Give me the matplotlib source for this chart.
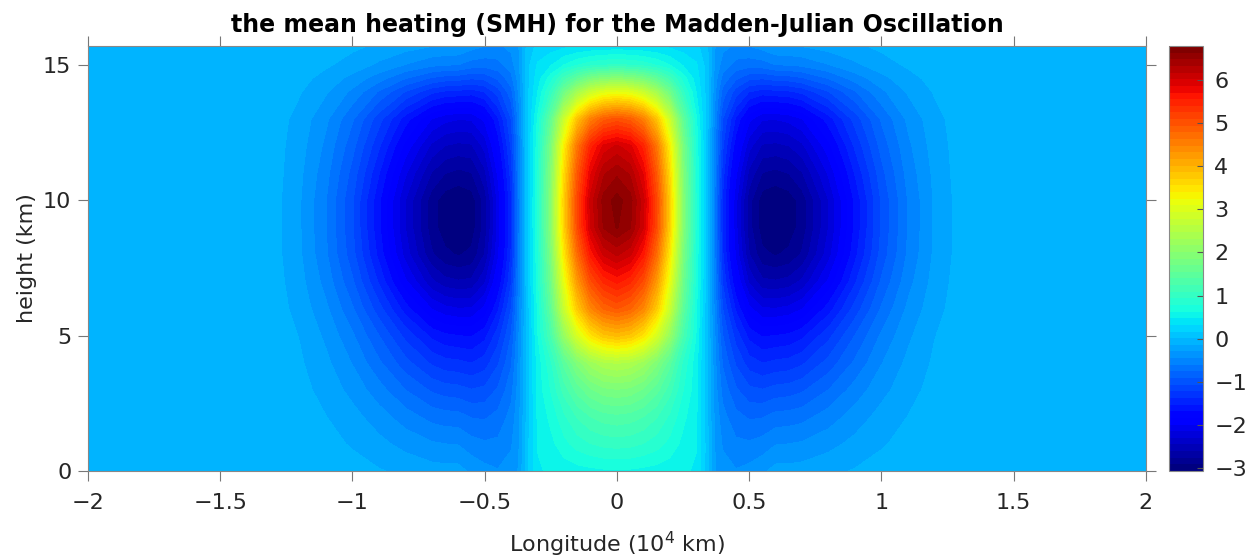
import numpy as np
import matplotlib
matplotlib.use('Agg')
from matplotlib import pyplot as plt

# height levels (km) and half of the longitude nodes (10^4 km), field is symmetric about 0
z_km = [0, 1, 2, 3, 4, 5, 6, 7, 8, 9, 10, 11, 12, 13, 14, 14.5, 15, 15.7]
x_core = [0, 0.05, 0.1, 0.15, 0.2, 0.25, 0.3, 0.34]
x_flank = [0.37, 0.4, 0.45, 0.5, 0.55, 0.6, 0.65, 0.7, 0.8, 0.9, 1.0, 1.1, 1.2, 1.3, 1.4, 2.0]

# heating in the convective core (rows = z_km, cols = x_core)
heat_core = [
    [0.60, 0.60, 0.58, 0.56, 0.53, 0.49, 0.46, 0.10],
    [1.00, 0.98, 0.93, 0.85, 0.73, 0.58, 0.48, 0.10],
    [1.35, 1.32, 1.24, 1.10, 0.90, 0.67, 0.50, 0.05],
    [1.85, 1.81, 1.68, 1.46, 1.15, 0.79, 0.53, 0.05],
    [2.50, 2.44, 2.25, 1.91, 1.45, 0.90, 0.53, 0.05],
    [3.90, 3.80, 3.48, 2.92, 2.15, 1.24, 0.61, 0.05],
    [4.95, 4.81, 4.45, 3.75, 2.75, 1.50, 0.65, 0.05],
    [5.60, 5.44, 5.05, 4.25, 3.10, 1.68, 0.70, 0.10],
    [6.20, 6.05, 5.60, 4.72, 3.42, 1.83, 0.73, 0.10],
    [6.65, 6.50, 6.02, 5.07, 3.66, 1.95, 0.76, 0.10],
    [6.70, 6.55, 6.07, 5.11, 3.70, 1.96, 0.76, 0.10],
    [6.45, 6.30, 5.84, 4.92, 3.56, 1.90, 0.75, 0.10],
    [6.05, 5.91, 5.48, 4.62, 3.35, 1.80, 0.72, 0.10],
    [5.00, 4.88, 4.52, 3.82, 2.78, 1.52, 0.65, 0.10],
    [3.10, 3.02, 2.76, 2.32, 1.70, 0.97, 0.47, 0.10],
    [2.00, 1.95, 1.80, 1.52, 1.15, 0.71, 0.40, 0.10],
    [0.95, 0.93, 0.87, 0.77, 0.63, 0.46, 0.34, 0.10],
    [0.35, 0.35, 0.33, 0.31, 0.28, 0.24, 0.21, 0.05],
]

# cooling on the flanks (rows = z_km, cols = x_flank)
heat_flank = [
    [-0.28, -0.39, -0.44, -0.40, -0.33, -0.24, -0.24, -0.23, -0.18, -0.13, -0.08, -0.05, -0.02, -0.01, 0, 0],
    [-0.30, -0.47, -0.57, -0.58, -0.54, -0.46, -0.45, -0.43, -0.35, -0.25, -0.16, -0.09, -0.04, -0.01, 0, 0],
    [-0.33, -0.55, -0.71, -0.78, -0.77, -0.70, -0.69, -0.66, -0.53, -0.38, -0.24, -0.14, -0.06, -0.02, 0, 0],
    [-0.37, -0.66, -0.89, -1.03, -1.06, -1.01, -0.99, -0.94, -0.76, -0.54, -0.35, -0.20, -0.09, -0.03, 0, 0],
    [-0.40, -0.78, -1.09, -1.30, -1.38, -1.34, -1.32, -1.25, -1.01, -0.73, -0.46, -0.26, -0.12, -0.04, 0, 0],
    [-0.44, -0.91, -1.29, -1.58, -1.70, -1.68, -1.65, -1.57, -1.27, -0.91, -0.58, -0.33, -0.15, -0.04, 0, 0],
    [-0.50, -1.07, -1.56, -1.95, -2.13, -2.14, -2.10, -2.00, -1.61, -1.16, -0.74, -0.42, -0.20, -0.06, 0, 0],
    [-0.55, -1.24, -1.83, -2.33, -2.57, -2.59, -2.55, -2.42, -1.96, -1.40, -0.89, -0.51, -0.24, -0.07, 0, 0],
    [-0.59, -1.36, -2.03, -2.60, -2.88, -2.93, -2.88, -2.74, -2.21, -1.58, -1.01, -0.58, -0.27, -0.08, 0, 0],
    [-0.60, -1.40, -2.10, -2.70, -3.00, -3.05, -3.00, -2.85, -2.30, -1.65, -1.05, -0.60, -0.28, -0.08, 0, 0],
    [-0.60, -1.40, -2.10, -2.70, -3.00, -3.05, -3.00, -2.85, -2.30, -1.65, -1.05, -0.60, -0.28, -0.08, 0, 0],
    [-0.57, -1.31, -1.96, -2.50, -2.77, -2.81, -2.76, -2.62, -2.12, -1.52, -0.97, -0.55, -0.26, -0.07, 0, 0],
    [-0.54, -1.20, -1.78, -2.25, -2.48, -2.50, -2.46, -2.34, -1.89, -1.35, -0.86, -0.49, -0.23, -0.07, 0, 0],
    [-0.50, -1.07, -1.56, -1.95, -2.13, -2.14, -2.10, -2.00, -1.61, -1.16, -0.74, -0.42, -0.20, -0.06, 0, 0],
    [-0.41, -0.82, -1.15, -1.38, -1.46, -1.43, -1.41, -1.34, -1.08, -0.78, -0.49, -0.28, -0.13, -0.04, 0, 0],
    [-0.37, -0.66, -0.89, -1.03, -1.06, -1.01, -0.99, -0.94, -0.76, -0.54, -0.35, -0.20, -0.09, -0.03, 0, 0],
    [-0.32, -0.52, -0.66, -0.70, -0.68, -0.61, -0.60, -0.57, -0.46, -0.33, -0.21, -0.12, -0.06, -0.02, 0, 0],
    [-0.29, -0.41, -0.48, -0.45, -0.39, -0.31, -0.30, -0.29, -0.23, -0.17, -0.11, -0.06, -0.03, -0.01, 0, 0],
]

cb_ticks = [-3, -2, -1, 0, 1, 2, 3, 4, 5, 6]
vmin, vmax = -3.07, 6.79

# mirror the half field onto negative longitudes
x_half = np.array(x_core + x_flank)
half = np.hstack([np.array(heat_core), np.array(heat_flank)])
x_all = np.concatenate([-x_half[:0:-1], x_half])
field = np.hstack([half[:, :0:-1], half])
X, Z = np.meshgrid(x_all, z_km)

fig = plt.figure(figsize=(12.51, 5.58), dpi=100)
ax = fig.add_axes([0.0703, 0.1559, 0.8457, 0.7616])
levels = np.linspace(vmin, vmax, 65)
cs = ax.contourf(X, Z, field, levels=levels, cmap=plt.get_cmap('jet', 64),
                 vmin=vmin, vmax=vmax, antialiased=False)

ax.set_xlim(-2, 2)
ax.set_ylim(0, 15.7)
ax.set_xticks([-2, -1.5, -1, -0.5, 0, 0.5, 1, 1.5, 2])
ax.set_xticklabels(['−2', '−1.5', '−1', '−0.5', '0', '0.5', '1', '1.5', '2'])
ax.set_yticks([0, 5, 10, 15])
ax.tick_params(direction='out', length=7, width=0.8, color='#777777', labelcolor='#262626',
               labelsize=16, top=True, right=True, pad=5)
ax.tick_params(axis='x', pad=9)
for s in ax.spines.values():
    s.set_color('#888888')
    s.set_linewidth(0.8)

ax.set_xlabel('Longitude (10$^4$ km)', fontsize=16, color='#262626', labelpad=12)
ax.set_ylabel('height (km)', fontsize=16, color='#262626', labelpad=4)
ax.set_title('the mean heating (SMH) for the Madden-Julian Oscillation', fontsize=17,
             fontweight='bold', pad=10)

cax = fig.add_axes([0.9345, 0.1559, 0.0272, 0.7616])
cb = fig.colorbar(cs, cax=cax, ticks=cb_ticks)
cb.ax.set_yticklabels(['−3', '−2', '−1', '0', '1', '2', '3', '4', '5', '6'])
cb.ax.tick_params(direction='in', length=4, color='#555555', labelcolor='#262626',
                  labelsize=16, pad=8)
cb.outline.set_edgecolor('#888888')
cb.outline.set_linewidth(0.8)

fig.savefig('out.png', dpi=100)
